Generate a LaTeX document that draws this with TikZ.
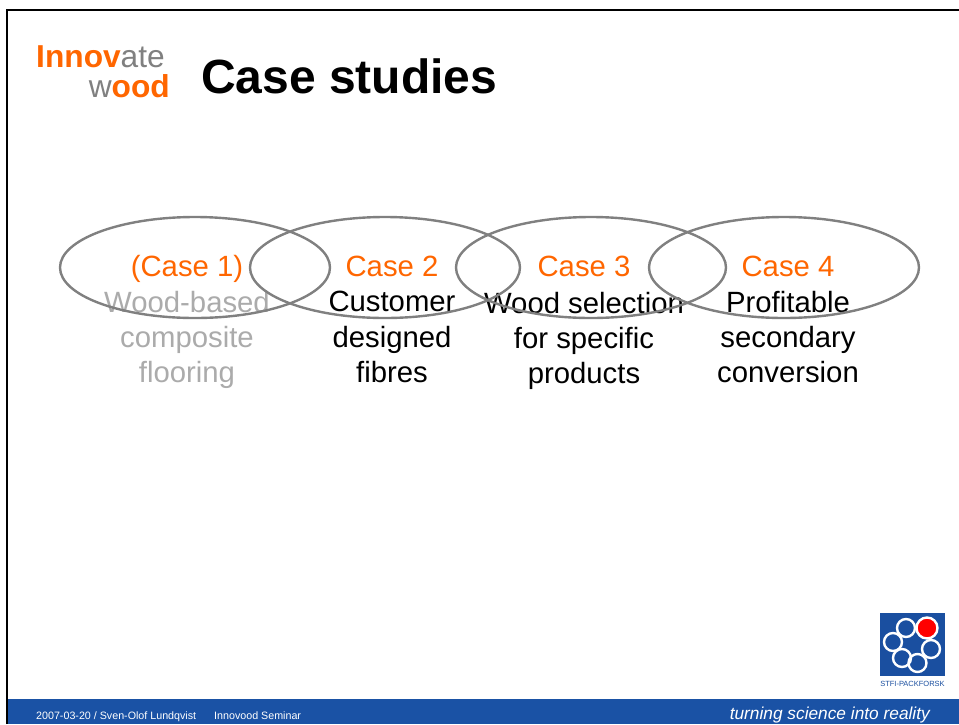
\documentclass[tikz,border=0pt]{standalone}
\usepackage{fontspec}
\setmainfont{Liberation Sans}
\definecolor{orng}{HTML}{FF6600}
\definecolor{grayt}{HTML}{808080}
\definecolor{lgray}{HTML}{ABABAB}
\definecolor{barblue}{HTML}{1A52A5}
\definecolor{logoblue}{HTML}{1A4FA0}
\newcommand{\fs}[1]{\fontsize{#1}{#1}\selectfont}
\usetikzlibrary{shapes.geometric}
\tikzset{
  casehead/.style={text=orng,font=\fs{29.3},anchor=base,inner sep=0pt},
  casebody/.style={font=\fs{29.3},anchor=base,inner sep=0pt},
  casedim/.style={casebody,text=lgray},
  caseell/.style={draw=grayt,line width=2.4pt,ellipse,minimum width=270pt,minimum height=101pt,inner sep=0pt},
  ring/.style={draw=white,line width=2.4pt,circle,minimum size=18pt,inner sep=0pt}
}
\begin{document}
\begin{tikzpicture}[x=1pt,y=-1pt]
\useasboundingbox (0,0) rectangle (959,724);
\fill[white] (0,0) rectangle (959,724);
\fill[barblue] (7,699) rectangle (959,724);
\draw[black,line width=2pt] (7,724) -- (7,10) -- (959,10);
% logo wordmark
\node[anchor=base west,inner sep=0pt,font=\fs{31.7}] (l1) at (36,67) {\textcolor{orng}{\textbf{Innov}}\textcolor{grayt}{ate}};
\node[anchor=base east,inner sep=0pt,font=\fs{31.7}] (l2) at (170,97) {\textcolor{grayt}{w}\textcolor{orng}{\textbf{ood}}};
\node[anchor=base west,inner sep=0pt,font=\bfseries\fs{48}] (title) at (201,93) {Case studies};
% heads
\node[casehead] (h1) at (187,276) {(Case 1)};
\node[casehead] (h2) at (392,276) {Case 2};
\node[casehead] (h3) at (584,276) {Case 3};
\node[casehead] (h4) at (788,276) {Case 4};
% bodies
\node[casedim] (a1) at (187,312) {Wood-based};
\node[casedim] (a2) at (187,347) {composite};
\node[casedim] (a3) at (187,382) {flooring};
\node[casebody] (b1) at (392,311) {Customer};
\node[casebody] (b2) at (392,347) {designed};
\node[casebody] (b3) at (392,382) {fibres};
\node[casebody] (c1) at (584,313) {Wood selection};
\node[casebody] (c2) at (584,348) {for specific};
\node[casebody] (c3) at (584,383) {products};
\node[casebody] (d1) at (788,312) {Profitable};
\node[casebody] (d2) at (788,347) {secondary};
\node[casebody] (d3) at (788,382) {conversion};
% ellipses
\node[caseell] (e1) at (195,267.5) {};
\node[caseell] (e2) at (385,267.5) {};
\node[caseell] (e3) at (591,267.5) {};
\node[caseell] (e4) at (784,267.5) {};
% STFI logo
\fill[logoblue] (880,613) rectangle (945,676);
\node[ring] (r1) at (906,628) {};
\node[ring] (r2) at (893,642) {};
\node[ring] (r3) at (902,658) {};
\node[ring] (r4) at (917.5,663) {};
\node[ring] (r5) at (931,649) {};
\node[ring,fill=red,minimum size=21pt] (r6) at (927,628) {};
\node[anchor=center,inner sep=0pt,font=\fs{7.5},text=logoblue] (stfi) at (912.5,683.5) {STFI-PACKFORSK};
% footer
\node[anchor=base west,inner sep=0pt,font=\fs{10.7},text=white] (f1) at (36,719) {2007-03-20 / Sven-Olof Lundqvist};
\node[anchor=base west,inner sep=0pt,font=\fs{10.7},text=white] (f2) at (214,719) {Innovood Seminar};
\node[anchor=base east,inner sep=0pt,font=\itshape\fs{17.3},text=white] (f3) at (930,719.5) {turning science into reality};
\end{tikzpicture}
\end{document}
